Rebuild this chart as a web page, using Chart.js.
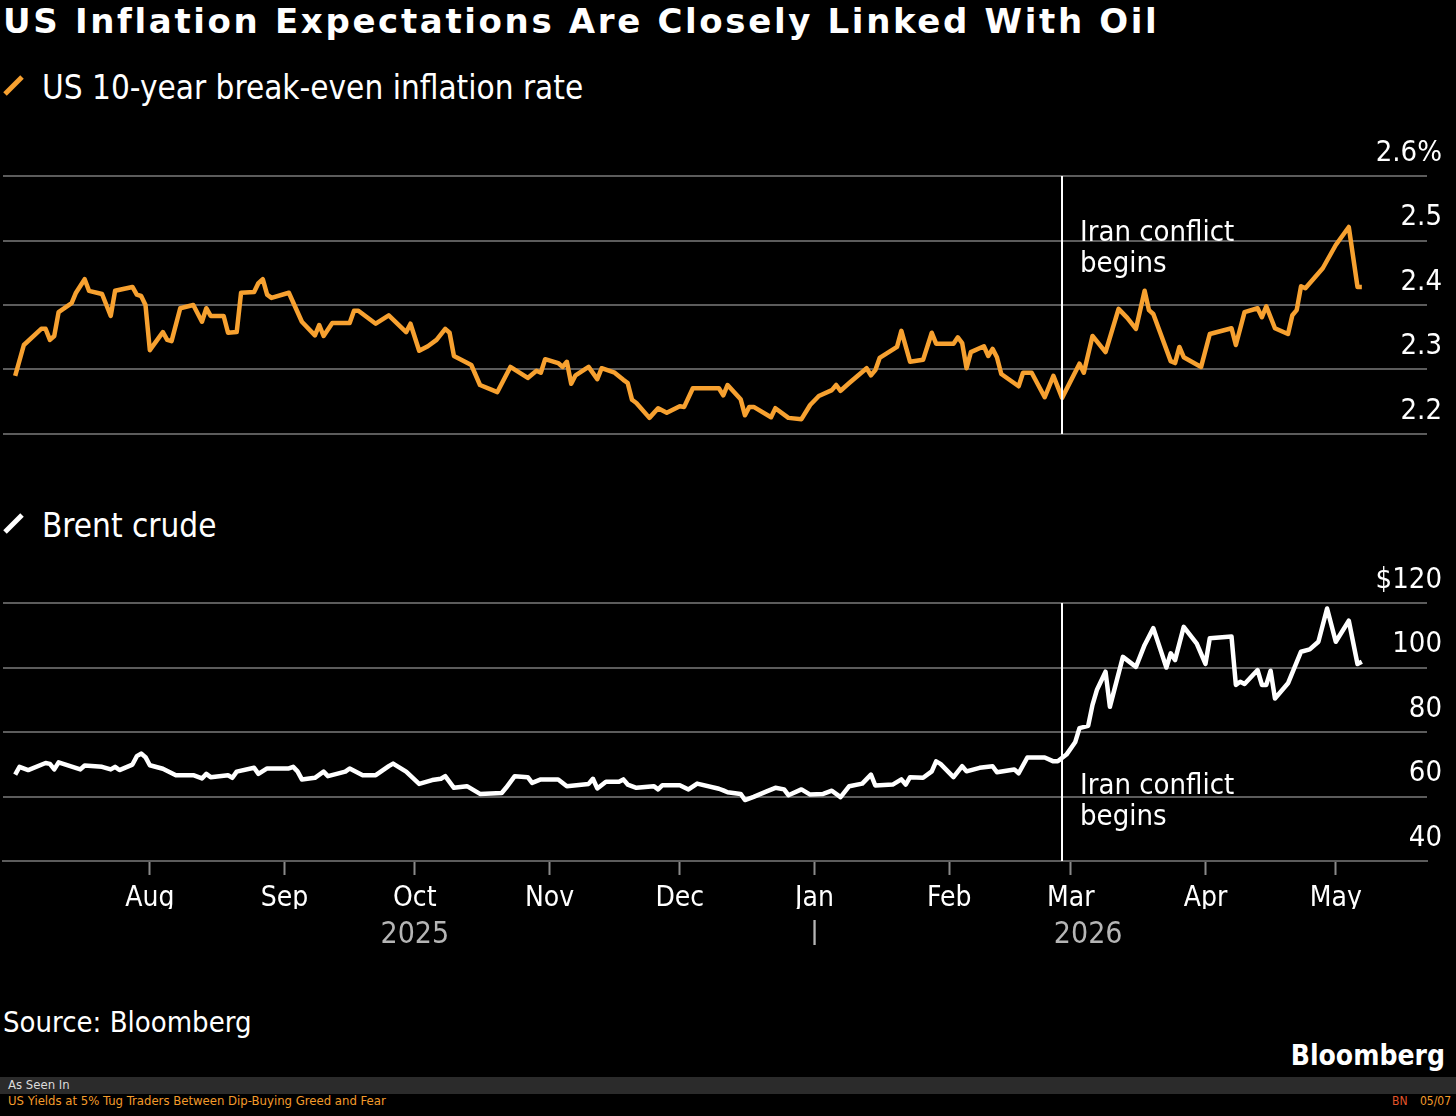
<!DOCTYPE html>
<html>
<head>
<meta charset="utf-8">
<script src="https://cdn.jsdelivr.net/npm/chart.js@4.4.1/dist/chart.umd.min.js"></script>
<style>
html, body { margin: 0; padding: 0; background: #000; width: 1456px; height: 1116px; overflow: hidden; }
body { position: relative; color: #fff; font-family: 'DejaVu Sans Condensed', 'DejaVu Sans', sans-serif; font-stretch: condensed; }
.abs { position: absolute; white-space: nowrap; }
#title { left: 3px; top: 0; font-family: 'DejaVu Sans', sans-serif; font-stretch: normal; font-weight: bold; font-size: 34px; line-height: 42px; letter-spacing: 2.65px; }
.legend { left: 42px; font-size: 33px; line-height: 40px; }
#source { left: 3px; top: 1004px; font-size: 29px; line-height: 36px; }
#logo { right: 11px; top: 1039px; font-size: 28px; line-height: 34px; font-weight: bold; }
#band { left: 0; top: 1077px; width: 1456px; height: 17px; background: #2b2b2b; }
.small { font-size: 13px; line-height: 16px; }
.tiny { font-size: 12px; line-height: 16px; }
#topWrap { left: 0; top: 120px; width: 1456px; height: 360px; }
#botWrap { left: 0; top: 560px; width: 1456px; height: 400px; }
</style>
</head>
<body>
<div id="title" class="abs">US Inflation Expectations Are Closely Linked With Oil</div>

<svg class="abs" style="left:0;top:70px" width="30" height="30"><line x1="5" y1="24" x2="22" y2="7" stroke="#f7a130" stroke-width="5"/></svg>
<div class="abs legend" style="top:68px">US 10-year break-even inflation rate</div>

<svg class="abs" style="left:0;top:508px" width="30" height="30"><line x1="5" y1="24" x2="22" y2="7" stroke="#ffffff" stroke-width="5"/></svg>
<div class="abs legend" style="top:506px">Brent crude</div>

<div id="topWrap" class="abs"><canvas id="topChart"></canvas></div>
<div id="botWrap" class="abs"><canvas id="botChart"></canvas></div>

<div id="source" class="abs">Source: Bloomberg</div>
<div id="logo" class="abs">Bloomberg</div>
<div id="band" class="abs"></div>
<div class="abs small" style="left:8px;top:1077px;color:#dcdcdc">As Seen In</div>
<div class="abs small" style="left:8px;top:1093px;color:#f39b2b">US Yields at 5% Tug Traders Between Dip-Buying Greed and Fear</div>
<div class="abs tiny" style="left:1392px;top:1093px;color:#e3552a">BN</div>
<div class="abs tiny" style="left:1420px;top:1093px;color:#f39b2b">05/07</div>

<script>
// days counted from 2025-07-01
var BREAKEVEN = [
  [0,2.290],[2,2.338],[6,2.363],[7,2.363],[8,2.346],[9,2.352],[10,2.389],[13,2.403],[14,2.419],[16,2.440],
  [17,2.422],[20,2.417],[22,2.383],[23,2.422],[27,2.428],[28,2.416],[29,2.414],[30,2.400],[31,2.330],[34,2.358],
  [35,2.346],[36,2.344],[38,2.395],[41,2.400],[43,2.374],[44,2.395],[45,2.383],[48,2.383],[49,2.357],[51,2.358],
  [52,2.419],[55,2.420],[56,2.434],[57,2.440],[58,2.416],[59,2.411],[63,2.419],[66,2.374],[69,2.353],[70,2.369],
  [71,2.352],[73,2.372],[77,2.372],[78,2.391],[79,2.391],[83,2.371],[86,2.384],[90,2.358],[91,2.371],[93,2.329],
  [95,2.336],[97,2.346],[99,2.363],[100,2.357],[101,2.321],[105,2.307],[107,2.276],[111,2.265],[114,2.304],[118,2.287],
  [120,2.298],[121,2.295],[122,2.316],[125,2.310],[126,2.304],[127,2.312],[128,2.278],[129,2.291],[132,2.304],[134,2.285],
  [135,2.302],[138,2.295],[140,2.284],[141,2.279],[142,2.253],[143,2.248],[146,2.225],[148,2.240],[150,2.233],[153,2.243],
  [154,2.242],[156,2.271],[162,2.271],[163,2.260],[164,2.276],[167,2.254],[168,2.229],[169,2.242],[170,2.242],[174,2.226],
  [175,2.240],[178,2.225],[181,2.223],[183,2.245],[185,2.259],[188,2.268],[189,2.276],[190,2.267],[192,2.279],[196,2.302],
  [197,2.291],[198,2.299],[199,2.318],[203,2.335],[204,2.360],[206,2.312],[209,2.315],[211,2.357],[212,2.340],[216,2.340],
  [217,2.350],[218,2.341],[219,2.302],[220,2.327],[223,2.336],[224,2.321],[225,2.332],[226,2.319],[227,2.293],[231,2.274],
  [232,2.295],[234,2.295],[237,2.257],[239,2.290],[241,2.256],[245,2.309],[246,2.295],[248,2.352],[251,2.327],[254,2.394],
  [256,2.380],[258,2.363],[260,2.422],[261,2.392],[262,2.386],[266,2.313],[267,2.310],[268,2.335],[269,2.319],[273,2.304],
  [275,2.355],[280,2.364],[281,2.338],[283,2.389],[286,2.395],[287,2.381],[288,2.398],[290,2.364],[293,2.355],[294,2.384],
  [295,2.392],[296,2.429],[297,2.426],[301,2.457],[304,2.493],[307,2.521],[309,2.428],[310,2.428]
];

var BRENT = [
  [0,66.8],[1,69.2],[3,68.2],[7,70.4],[8,70.1],[9,68.4],[10,70.6],[15,68.4],[16,69.6],[20,69.2],
  [22,68.4],[23,69.2],[24,68.2],[27,69.9],[28,72.5],[29,73.3],[30,72.2],[31,69.7],[34,68.6],[37,66.6],
  [41,66.6],[43,65.6],[44,67.0],[45,66.0],[49,66.6],[50,65.8],[51,67.7],[55,68.9],[56,67.0],[58,68.7],
  [63,68.7],[64,69.2],[65,67.8],[66,65.3],[69,65.8],[71,67.7],[72,66.3],[74,67.0],[76,67.7],[77,68.7],
  [80,66.6],[83,66.6],[86,69.4],[87,70.2],[90,67.7],[93,63.9],[96,65.1],[98,65.5],[99,66.3],[101,62.7],
  [104,63.2],[107,60.8],[112,61.1],[113,62.7],[115,66.3],[118,66.0],[119,64.2],[121,65.3],[125,65.3],[127,63.2],
  [132,63.9],[133,65.5],[134,62.5],[136,64.6],[139,64.6],[140,65.3],[141,63.7],[143,62.7],[147,63.2],[148,62.2],
  [149,63.5],[153,63.5],[155,62.2],[157,64.0],[162,62.4],[163,61.9],[164,61.3],[167,60.8],[168,58.9],[170,59.9],
  [173,61.6],[175,62.7],[177,62.2],[178,60.4],[181,62.2],[183,60.6],[186,60.8],[188,61.8],[190,59.8],[192,63.2],
  [195,64.0],[197,66.8],[198,63.4],[202,63.7],[204,65.3],[205,63.7],[206,66.0],[209,65.8],[211,67.8],[212,70.9],
  [213,70.1],[216,66.0],[218,69.4],[219,67.8],[222,68.9],[225,69.4],[226,67.5],[230,68.4],[231,67.2],[233,72.1],
  [237,72.1],[239,70.9],[240,70.9],[242,73.0],[244,76.8],[245,81.2],[247,81.9],[248,88.4],[249,93.0],[251,98.7],
  [252,87.8],[255,103.3],[258,100.2],[260,107.0],[262,112.2],[265,100.0],[266,104.4],[267,102.3],[269,112.6],[272,107.4],
  [274,101.1],[275,109.1],[280,109.6],[281,94.6],[282,95.6],[283,94.9],[286,99.2],[287,94.6],[288,94.6],[289,99.0],
  [290,90.4],[293,95.1],[296,104.9],[298,105.6],[300,108.0],[302,118.3],[304,108.0],[307,114.5],[309,101.1],[310,101.8]
];

var MONTH_TICKS = [31, 62, 92, 123, 153, 184, 215, 243, 274, 304];
var MONTH_LABELS = ['Aug', 'Sep', 'Oct', 'Nov', 'Dec', 'Jan', 'Feb', 'Mar', 'Apr', 'May'];
var YEAR_TICKS = [92, 184, 247];
var YEAR_LABELS = ['2025', '|', '2026'];
var IRAN_DAY = 241;
var X_MIN = -2.8, X_MAX = 325;

var FONT = "'DejaVu Sans Condensed', 'DejaVu Sans', sans-serif";
var GRID = '#5c5c5c';
Chart.defaults.font.family = FONT;
Chart.defaults.color = '#fff';

function toXY(pts) {
  return pts.map(function (p) { return { x: p[0], y: p[1] }; });
}

var iranPlugin = {
  id: 'iran',
  afterDatasetsDraw: function (chart, args, opts) {
    var ctx = chart.ctx, area = chart.chartArea;
    var x = Math.round(chart.scales.x.getPixelForValue(IRAN_DAY));
    ctx.save();
    ctx.strokeStyle = '#fff';
    ctx.lineWidth = 2;
    ctx.beginPath();
    ctx.moveTo(x, area.top);
    ctx.lineTo(x, area.bottom);
    ctx.stroke();
    ctx.fillStyle = '#fff';
    ctx.font = '29px ' + FONT;
    ctx.textBaseline = 'middle';
    ['Iran conflict', 'begins'].forEach(function (t, i) {
      ctx.fillText(t, x + 18, area.top + opts.offset + i * 31);
    });
    ctx.restore();
  }
};

function yAxis(min, max, step, fmt) {
  return {
    position: 'right', min: min, max: max,
    afterFit: function (s) { s.width = 0; },
    grid: { color: GRID, lineWidth: 2, drawTicks: false },
    border: { display: false },
    ticks: { stepSize: step, mirror: true, padding: 15, labelOffset: -23, color: '#fff', font: { size: 29 }, callback: fmt }
  };
}

var topChart = new Chart(document.getElementById('topChart'), {
  type: 'line',
  data: { datasets: [{ data: toXY(BREAKEVEN), borderColor: '#f7a130', borderWidth: 4.5, pointRadius: 0, tension: 0, borderJoinStyle: 'round' }] },
  options: {
    responsive: true, maintainAspectRatio: false, animation: false,
    layout: { padding: { left: 3, right: 29, top: 56, bottom: 46 } },
    plugins: { legend: { display: false }, tooltip: { enabled: false }, iran: { offset: 57 } },
    scales: {
      x: { type: 'linear', min: X_MIN, max: X_MAX, display: false },
      y: yAxis(2.2, 2.6, 0.1, function (v) { return v.toFixed(1) + (v > 2.55 ? '%' : ''); })
    }
  },
  plugins: [iranPlugin]
});

var botChart = new Chart(document.getElementById('botChart'), {
  type: 'line',
  data: { datasets: [{ data: toXY(BRENT), borderColor: '#ffffff', borderWidth: 4.5, pointRadius: 0, tension: 0, borderJoinStyle: 'round' }] },
  options: {
    responsive: true, maintainAspectRatio: false, animation: false,
    layout: { padding: { left: 3, right: 29, top: 43, bottom: 15 } },
    plugins: { legend: { display: false }, tooltip: { enabled: false }, iran: { offset: 183 } },
    scales: {
      x: {
        type: 'linear', min: X_MIN, max: X_MAX, position: 'bottom', weight: 0,
        afterBuildTicks: function (s) { s.ticks = MONTH_TICKS.map(function (v) { return { value: v }; }); },
        afterFit: function (s) { s.height = 48; },
        grid: { drawOnChartArea: false, drawTicks: true, tickLength: 14, tickColor: '#8a8a8a', tickWidth: 2, color: GRID },
        border: { display: true, color: GRID, width: 2 },
        ticks: { autoSkip: false, maxRotation: 0, padding: 7, color: '#fff', font: { size: 28 },
          callback: function (v, i) { return MONTH_LABELS[i]; } }
      },
      x2: {
        type: 'linear', min: X_MIN, max: X_MAX, position: 'bottom', weight: 1,
        afterBuildTicks: function (s) { s.ticks = YEAR_TICKS.map(function (v) { return { value: v }; }); },
        afterFit: function (s) { s.height = 36; },
        grid: { display: false },
        border: { display: false },
        ticks: { autoSkip: false, maxRotation: 0, padding: 0, color: '#b5b5b5', font: { size: 30 },
          callback: function (v, i) { return YEAR_LABELS[i]; } }
      },
      y: yAxis(40, 120, 20, function (v) { return v === 120 ? '$120' : String(v); })
    }
  },
  plugins: [iranPlugin]
});
</script>
</body>
</html>
